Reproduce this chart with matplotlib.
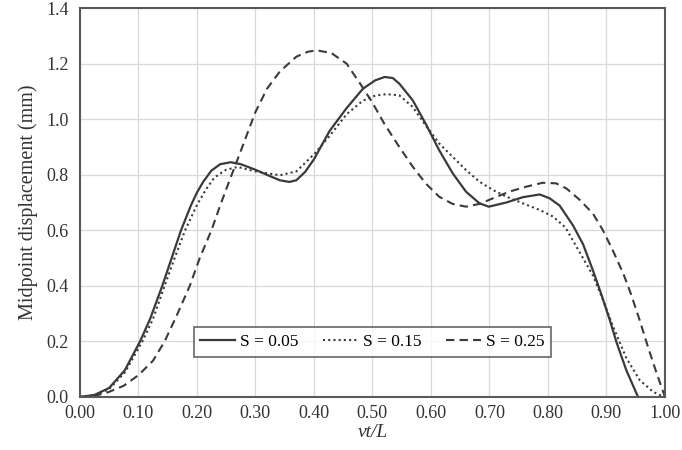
import numpy as np
import matplotlib
matplotlib.use('Agg')
import matplotlib.pyplot as plt

# values
x_s05 = [0.00, 0.025, 0.05, 0.077, 0.103, 0.12, 0.141, 0.157, 0.173, 0.19, 0.20, 0.211, 0.225,
         0.24, 0.258, 0.275, 0.30, 0.325, 0.342, 0.358, 0.37, 0.385, 0.40, 0.427, 0.456, 0.484,
         0.505, 0.521, 0.535, 0.546, 0.569, 0.591, 0.614, 0.637, 0.66, 0.683, 0.699, 0.729,
         0.757, 0.786, 0.803, 0.82, 0.843, 0.86, 0.877, 0.891, 0.906, 0.917, 0.934, 0.954]
y_s05 = [0.00, 0.007, 0.032, 0.096, 0.20, 0.28, 0.40, 0.50, 0.60, 0.69, 0.735, 0.775, 0.815,
         0.838, 0.845, 0.838, 0.818, 0.795, 0.78, 0.774, 0.78, 0.81, 0.855, 0.958, 1.04, 1.11,
         1.14, 1.152, 1.148, 1.128, 1.068, 0.984, 0.889, 0.806, 0.739, 0.697, 0.685, 0.70,
         0.719, 0.729, 0.715, 0.689, 0.617, 0.55, 0.455, 0.371, 0.275, 0.198, 0.096, 0.00]

x_s15 = [0.00, 0.025, 0.05, 0.077, 0.107, 0.125, 0.145, 0.162, 0.18, 0.20, 0.215, 0.23, 0.25,
         0.27, 0.30, 0.342, 0.37, 0.40, 0.427, 0.456, 0.484, 0.505, 0.524, 0.546, 0.569, 0.591,
         0.614, 0.637, 0.66, 0.683, 0.706, 0.729, 0.757, 0.786, 0.809, 0.83, 0.849, 0.877,
         0.894, 0.911, 0.934, 0.957, 0.98, 0.998]
y_s15 = [0.00, 0.005, 0.028, 0.088, 0.20, 0.28, 0.40, 0.50, 0.60, 0.69, 0.745, 0.79, 0.818,
         0.828, 0.812, 0.798, 0.812, 0.873, 0.94, 1.018, 1.067, 1.085, 1.09, 1.086, 1.044, 0.978,
         0.913, 0.865, 0.817, 0.775, 0.745, 0.721, 0.697, 0.673, 0.649, 0.61, 0.54, 0.437,
         0.35, 0.255, 0.14, 0.06, 0.018, 0.00]

x_s25 = [0.00, 0.025, 0.05, 0.075, 0.10, 0.125, 0.145, 0.165, 0.188, 0.205, 0.225, 0.24, 0.256,
         0.275, 0.30, 0.32, 0.342, 0.37, 0.39, 0.405, 0.43, 0.456, 0.48, 0.50, 0.52, 0.546,
         0.569, 0.591, 0.614, 0.637, 0.66, 0.683, 0.706, 0.734, 0.763, 0.791, 0.814, 0.832,
         0.854, 0.877, 0.894, 0.911, 0.929, 0.942, 0.957, 0.971, 0.986, 1.00]
y_s25 = [0.00, 0.003, 0.018, 0.04, 0.078, 0.13, 0.20, 0.29, 0.40, 0.50, 0.60, 0.69, 0.78,
         0.885, 1.025, 1.11, 1.172, 1.225, 1.243, 1.248, 1.238, 1.20, 1.125, 1.06, 0.985, 0.90,
         0.829, 0.769, 0.721, 0.695, 0.685, 0.695, 0.715, 0.739, 0.757, 0.771, 0.769, 0.75,
         0.71, 0.66, 0.60, 0.527, 0.443, 0.37, 0.275, 0.18, 0.084, 0.00]

labels = ['S = 0.05', 'S = 0.15', 'S = 0.25']
x_ticks = [0.0, 0.1, 0.2, 0.3, 0.4, 0.5, 0.6, 0.7, 0.8, 0.9, 1.0]
y_ticks = [0.0, 0.2, 0.4, 0.6, 0.8, 1.0, 1.2, 1.4]

plt.rcParams['font.family'] = ['Liberation Serif', 'DejaVu Serif']

fig = plt.figure(figsize=(6.82, 4.5), dpi=100)
ax = fig.add_axes([0.117, 0.118, 0.858, 0.864])

col = '#3a3a3a'
ax.plot(x_s05, y_s05, color=col, lw=1.6, ls='-', label=labels[0])
ax.plot(x_s15, y_s15, color=col, lw=1.5, ls=(0, (1, 1.5)), label=labels[1])
ax.plot(x_s25, y_s25, color=col, lw=1.5, ls=(0, (4, 2.5)), label=labels[2])

ax.set_xlim(0, 1.0)
ax.set_ylim(0, 1.4)
ax.set_xticks(x_ticks)
ax.set_yticks(y_ticks)
ax.set_xticklabels(['%.2f' % v for v in x_ticks])
ax.set_yticklabels(['%.1f' % v for v in y_ticks])
ax.tick_params(length=0, labelsize=13, colors='#333333')
ax.tick_params(axis='x', pad=6)
ax.tick_params(axis='y', pad=8)
ax.grid(True, color='#d9d9d9', lw=0.9)
ax.set_axisbelow(True)
for s in ax.spines.values():
    s.set_color('#595959')
    s.set_linewidth(1.5)

ax.set_xlabel('vt/L', fontsize=14, style='italic', labelpad=1, color='#333333')
ax.set_ylabel('Midpoint displacement (mm)', fontsize=14.5, labelpad=6, color='#333333')

leg = ax.legend(loc='lower center', bbox_to_anchor=(0.5, 0.08), ncol=3, fontsize=12.5,
                frameon=True, fancybox=False, edgecolor='#404040', handlelength=2.0,
                columnspacing=1.4, handletextpad=0.3, borderpad=0.4)
leg.get_frame().set_linewidth(1.2)

fig.savefig('out.png', dpi=100)
